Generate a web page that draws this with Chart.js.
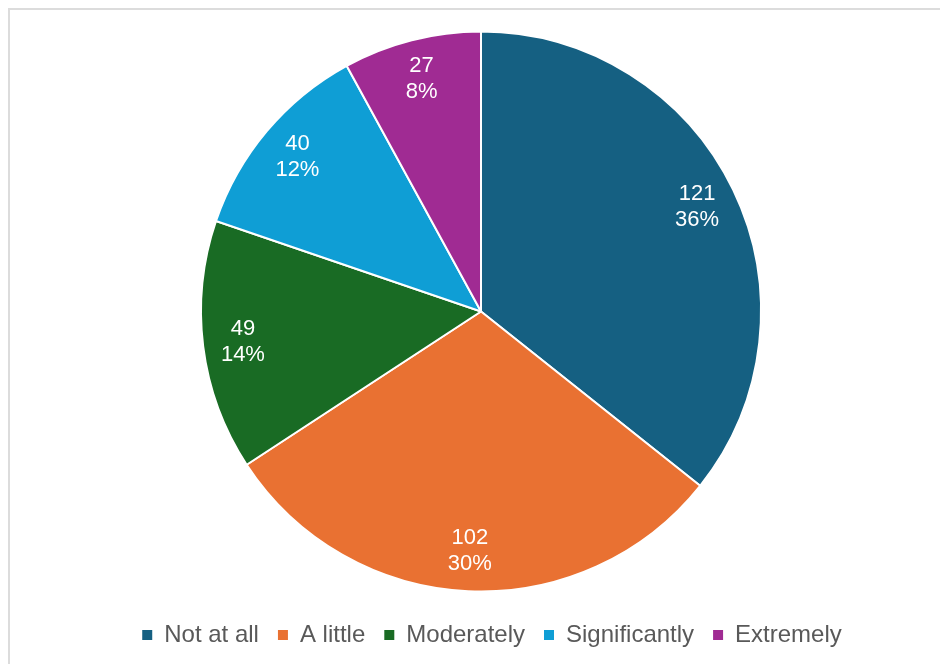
<!DOCTYPE html>
<html>
<head>
<meta charset="utf-8">
<title>Pie</title>
<script src="https://cdn.jsdelivr.net/npm/chart.js@4"></script>
<style>
  body { margin: 0; background: #fff; overflow: hidden; }
  .frame { position: absolute; left: 8px; top: 8px; width: 1000px; height: 1000px; border: 2px solid #dcdcdc; }
  #chart { position: absolute; left: 0; top: 0; }
</style>
</head>
<body>
<div class="frame"></div>
<canvas id="chart" width="940" height="664"></canvas>
<script>
const labels = ['Not at all', 'A little', 'Moderately', 'Significantly', 'Extremely'];
const counts = [121, 102, 49, 40, 27];
const colors = ['#156082', '#E97132', '#196B24', '#0F9ED5', '#A02B93'];

const FONT = '"Liberation Sans", Arial, sans-serif';

// count + percentage drawn inside each slice
const sliceLabels = {
  id: 'sliceLabels',
  afterDatasetsDraw(chart) {
    const { ctx } = chart;
    const meta = chart.getDatasetMeta(0);
    const total = counts.reduce((a, b) => a + b, 0);
    ctx.save();
    ctx.font = '22px ' + FONT;
    ctx.fillStyle = '#ffffff';
    ctx.textAlign = 'center';
    ctx.textBaseline = 'middle';
    meta.data.forEach((arc, i) => {
      const { x, y, startAngle, endAngle, outerRadius } = arc.getProps(['x', 'y', 'startAngle', 'endAngle', 'outerRadius'], true);
      const mid = (startAngle + endAngle) / 2;
      const r = outerRadius * 0.857;
      const cx = x + Math.cos(mid) * r;
      const cy = y + Math.sin(mid) * r;
      const pct = Math.round(counts[i] / total * 100) + '%';
      ctx.fillText(String(counts[i]), cx, cy - 13);
      ctx.fillText(pct, cx, cy + 13);
    });
    ctx.restore();
  }
};

new Chart(document.getElementById('chart'), {
  type: 'pie',
  data: {
    labels: labels,
    datasets: [{
      data: counts,
      backgroundColor: colors,
      borderColor: '#ffffff',
      borderWidth: 2,
      radius: 280
    }]
  },
  options: {
    responsive: false,
    animation: false,
    devicePixelRatio: 1,
    layout: { padding: { top: 19, left: 44, right: 0, bottom: 7 } },
    plugins: {
      tooltip: { enabled: false },
      // empty spacer on the right so the pie sits a little left of the legend
      title: { display: true, position: 'right', text: '', font: { size: 10 }, padding: { top: 5, bottom: 5 } },
      legend: {
        position: 'bottom',
        labels: {
          color: '#595959',
          font: { family: FONT, size: 24 },
          boxWidth: 10,
          boxHeight: 10,
          padding: 19,
          generateLabels(chart) {
            const items = Chart.overrides.pie.plugins.legend.labels.generateLabels(chart);
            return items.map(it => Object.assign(it, { lineWidth: 0 }));
          }
        }
      }
    }
  },
  plugins: [sliceLabels]
});
</script>
</body>
</html>
